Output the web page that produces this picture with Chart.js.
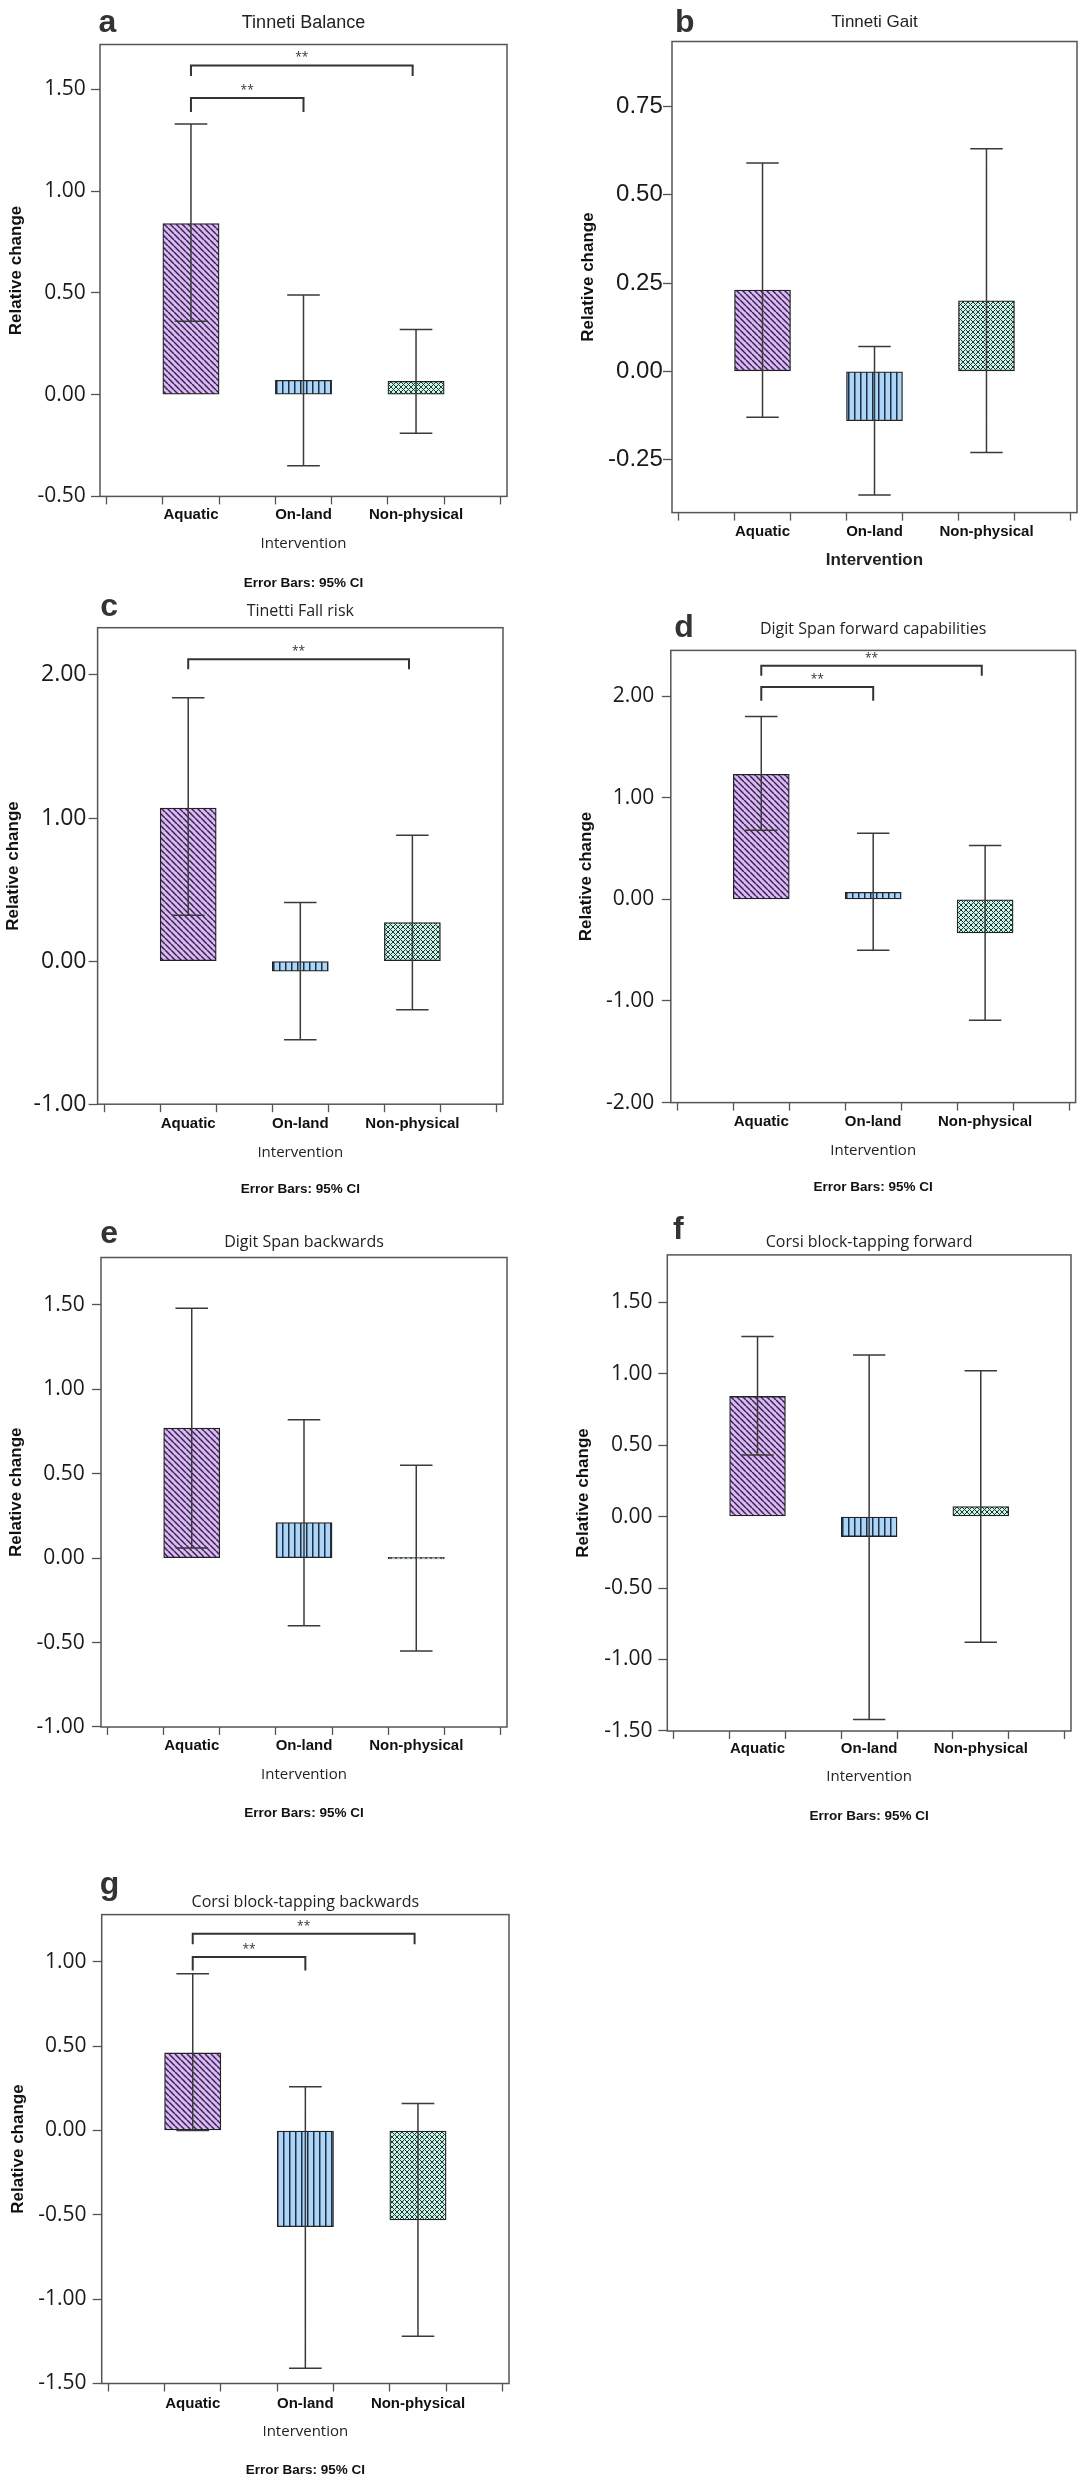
<!DOCTYPE html>
<html>
<head>
<meta charset="utf-8">
<script src="https://cdn.jsdelivr.net/npm/chart.js@4/dist/chart.umd.min.js"></script>
<style>
    body { margin: 0; background: #fff; width: 1083px; height: 2481px; position: relative; overflow: hidden; }
    canvas { position: absolute; }
    .letter { position: absolute; font-family: "Liberation Sans", Arial, sans-serif; font-size: 32px; line-height: 32px; font-weight: bold; color: #333; z-index: 2; }
</style>
</head>
<body>
<script>
// 공통 값
const categories = ['Aquatic', 'On-land', 'Non-physical'];
const xTickPositions = [-0.5, 0, 0.5, 1, 1.5, 2, 2.5];
const xRange = [-0.55, 2.55];

// a. Tinneti Balance
const balanceMean = [0.84, 0.07, 0.065];
const balanceLow = [0.36, -0.35, -0.19];
const balanceHigh = [1.33, 0.49, 0.32];
const balanceTicks = [-0.5, 0, 0.5, 1, 1.5];
const balanceRange = [-0.5, 1.72];
const balanceSig = [[0, 1.97, 1.617, 1.565], [0, 1, 1.457, 1.389]];

// b. Tinneti Gait
const gaitMean = [0.23, -0.14, 0.2];
const gaitLow = [-0.13, -0.35, -0.23];
const gaitHigh = [0.59, 0.07, 0.63];
const gaitTicks = [-0.25, 0, 0.25, 0.5, 0.75];
const gaitRange = [-0.4, 0.934];
const gaitSig = [];

// c. Tinetti Fall risk
const fallMean = [1.07, -0.07, 0.27];
const fallLow = [0.32, -0.55, -0.34];
const fallHigh = [1.84, 0.41, 0.88];
const fallTicks = [-1, 0, 1, 2];
const fallRange = [-1, 2.33];
const fallSig = [[0, 1.97, 2.11, 2.04]];

// d. Digit Span forward capabilities
const digitFwdMean = [1.23, 0.07, -0.33];
const digitFwdLow = [0.68, -0.5, -1.19];
const digitFwdHigh = [1.8, 0.65, 0.53];
const digitFwdTicks = [-2, -1, 0, 1, 2];
const digitFwdRange = [-2, 2.45];
const digitFwdSig = [[0, 1.97, 2.3, 2.2], [0, 1, 2.09, 1.955]];

// e. Digit Span backwards
const digitBwdMean = [0.77, 0.21, 0];
const digitBwdLow = [0.06, -0.4, -0.55];
const digitBwdHigh = [1.48, 0.82, 0.55];
const digitBwdTicks = [-1, -0.5, 0, 0.5, 1, 1.5];
const digitBwdRange = [-1, 1.78];
const digitBwdSig = [];

// f. Corsi block-tapping forward
const corsiFwdMean = [0.84, -0.14, 0.07];
const corsiFwdLow = [0.43, -1.42, -0.88];
const corsiFwdHigh = [1.26, 1.13, 1.02];
const corsiFwdTicks = [-1.5, -1, -0.5, 0, 0.5, 1, 1.5];
const corsiFwdRange = [-1.5, 1.83];
const corsiFwdSig = [];

// g. Corsi block-tapping backwards
const corsiBwdMean = [0.46, -0.57, -0.53];
const corsiBwdLow = [0, -1.41, -1.22];
const corsiBwdHigh = [0.93, 0.26, 0.16];
const corsiBwdTicks = [-1.5, -1, -0.5, 0, 0.5, 1];
const corsiBwdRange = [-1.5, 1.28];
const corsiBwdSig = [[0, 1.97, 1.167, 1.104], [0, 1, 1.029, 0.949]];

const ARIAL = '"Liberation Sans", Arial, sans-serif';
const OPEN = '"Open Sans", sans-serif';

// 패널 배치 (페이지 좌표)
const panels = [
    { letter: 'a', letterAt: [98.6, 32], title: 'Tinneti Balance', titleFont: ARIAL, titleSize: 18,
      mean: balanceMean, low: balanceLow, high: balanceHigh, ticks: balanceTicks, range: balanceRange, sig: balanceSig,
      box: [100, 44.5, 507, 496.4], titleY: 23.4, yTitleX: 16.6, tickFont: OPEN, tickSize: 21, labelRight: 85.8,
      xLabelY: 515, xTitleY: 543.6, xTitleBold: false, noteY: 583 },
    { letter: 'b', letterAt: [675, 32], title: 'Tinneti Gait', titleFont: ARIAL, titleSize: 17,
      mean: gaitMean, low: gaitLow, high: gaitHigh, ticks: gaitTicks, range: gaitRange, sig: gaitSig,
      box: [672, 41.5, 1077, 512.6], titleY: 22.6, yTitleX: 588.5, tickFont: ARIAL, tickSize: 24, labelRight: 662.8,
      xLabelY: 531.5, xTitleY: 560.6, xTitleBold: true, noteY: null },
    { letter: 'c', letterAt: [100.3, 616.4], title: 'Tinetti Fall risk', titleFont: OPEN, titleSize: 16,
      mean: fallMean, low: fallLow, high: fallHigh, ticks: fallTicks, range: fallRange, sig: fallSig,
      box: [97.6, 627.7, 503, 1104.2], titleY: 611.9, yTitleX: 13.8, tickFont: OPEN, tickSize: 23, labelRight: 86.5,
      xLabelY: 1124, xTitleY: 1152.5, xTitleBold: false, noteY: 1189.6 },
    { letter: 'd', letterAt: [674.3, 637.2], title: 'Digit Span forward capabilities', titleFont: OPEN, titleSize: 16,
      mean: digitFwdMean, low: digitFwdLow, high: digitFwdHigh, ticks: digitFwdTicks, range: digitFwdRange, sig: digitFwdSig,
      box: [670.8, 650.4, 1075.6, 1102.6], titleY: 629.6, yTitleX: 586.7, tickFont: OPEN, tickSize: 21, labelRight: 654.2,
      xLabelY: 1122.3, xTitleY: 1150.6, xTitleBold: false, noteY: 1187.7 },
    { letter: 'e', letterAt: [100.3, 1243.3], title: 'Digit Span backwards', titleFont: OPEN, titleSize: 16,
      mean: digitBwdMean, low: digitBwdLow, high: digitBwdHigh, ticks: digitBwdTicks, range: digitBwdRange, sig: digitBwdSig,
      box: [101, 1257.5, 507, 1727], titleY: 1242.6, yTitleX: 16.6, tickFont: OPEN, tickSize: 21, labelRight: 84.8,
      xLabelY: 1746, xTitleY: 1775, xTitleBold: false, noteY: 1813 },
    { letter: 'f', letterAt: [673, 1239.5], title: 'Corsi block-tapping forward', titleFont: OPEN, titleSize: 16,
      mean: corsiFwdMean, low: corsiFwdLow, high: corsiFwdHigh, ticks: corsiFwdTicks, range: corsiFwdRange, sig: corsiFwdSig,
      box: [667.3, 1254.9, 1071, 1731], titleY: 1242.2, yTitleX: 583, tickFont: OPEN, tickSize: 21, labelRight: 652.5,
      xLabelY: 1749, xTitleY: 1777, xTitleBold: false, noteY: 1816.7 },
    { letter: 'g', letterAt: [99.7, 1893.8], title: 'Corsi block-tapping backwards', titleFont: OPEN, titleSize: 16,
      mean: corsiBwdMean, low: corsiBwdLow, high: corsiBwdHigh, ticks: corsiBwdTicks, range: corsiBwdRange, sig: corsiBwdSig,
      box: [101.7, 1914.6, 509, 2383.5], titleY: 1902, yTitleX: 18, tickFont: OPEN, tickSize: 21, labelRight: 86.5,
      xLabelY: 2404, xTitleY: 2431.7, xTitleBold: false, noteY: 2470.7 }
];

// 해칭 패턴
function makePattern(kind) {
    const c = document.createElement('canvas');
    const s = kind === 'lattice' ? 5 : 6;
    c.width = s; c.height = s;
    const g = c.getContext('2d');
    if (kind === 'diag') {
        g.fillStyle = '#dcb8f6'; g.fillRect(0, 0, s, s);
        g.strokeStyle = '#35264b'; g.lineWidth = 1.5;
        g.beginPath();
        [-s, 0, s].forEach(k => { g.moveTo(k, 0); g.lineTo(k + s, s); });
        g.stroke();
    } else if (kind === 'vert') {
        g.fillStyle = '#acd5f7'; g.fillRect(0, 0, s, s);
        g.fillStyle = '#1d2f45'; g.fillRect(0, 0, 1.5, s);
    } else {
        g.fillStyle = '#c9f3e4'; g.fillRect(0, 0, s, s);
        g.strokeStyle = '#1f3836'; g.lineWidth = 1;
        g.beginPath();
        [-s, 0, s].forEach(k => { g.moveTo(k, 0); g.lineTo(k + s, s); g.moveTo(k + s, 0); g.lineTo(k, s); });
        g.stroke();
    }
    return g.createPattern(c, 'repeat');
}
const fills = [makePattern('diag'), makePattern('vert'), makePattern('lattice')];

const framePlugin = {
    id: 'frame',
    afterDraw(chart) {
        const { ctx, chartArea: a } = chart;
        ctx.save();
        ctx.strokeStyle = '#555';
        ctx.lineWidth = 1.5;
        ctx.strokeRect(a.left, a.top, a.right - a.left, a.bottom - a.top);
        ctx.restore();
    }
};

const starPlugin = {
    id: 'stars',
    afterDatasetsDraw(chart, args, opts) {
        const { ctx, scales } = chart;
        ctx.save();
        ctx.font = '12px ' + OPEN;
        ctx.fillStyle = '#333';
        ctx.textAlign = 'center';
        ctx.textBaseline = 'alphabetic';
        (opts.sig || []).forEach(s => {
            ctx.fillText('**', scales.x.getPixelForValue((s[0] + s[1]) / 2), scales.y.getPixelForValue(s[2]) - 4);
        });
        ctx.restore();
    }
};

function errorPoints(low, high) {
    const cap = 0.145;
    const pts = [];
    low.forEach((lo, i) => {
        const hi = high[i];
        pts.push({ x: i - cap, y: hi }, { x: i + cap, y: hi }, { x: i, y: null },
                 { x: i, y: hi }, { x: i, y: lo }, { x: i, y: null },
                 { x: i - cap, y: lo }, { x: i + cap, y: lo }, { x: i, y: null });
    });
    return pts;
}

function bracketPoints(sig) {
    const pts = [];
    sig.forEach(s => {
        pts.push({ x: s[0], y: s[3] }, { x: s[0], y: s[2] }, { x: s[1], y: s[2] }, { x: s[1], y: s[3] }, { x: s[1], y: null });
    });
    return pts;
}

function drawPanel(p) {
    const [L, T, R, B] = p.box;
    const tLine = p.titleSize * 1.2;
    const yLine = 17 * 1.2;
    const xtSize = p.xTitleBold ? 17 : 15;
    const xtLine = xtSize * 1.2;
    const noteLine = 13.5 * 1.2;
    const left = Math.floor(p.yTitleX - yLine / 2);
    const top = Math.floor(p.titleY - tLine / 2);
    const right = Math.ceil(R + 4);
    const contentBottom = p.noteY ? p.noteY + noteLine / 2 : p.xTitleY + xtLine / 2;
    const bottom = Math.ceil(contentBottom + 3);

    const canvas = document.createElement('canvas');
    canvas.width = right - left;
    canvas.height = bottom - top;
    canvas.style.left = left + 'px';
    canvas.style.top = top + 'px';
    document.body.appendChild(canvas);

    const yAxisW = L - left;
    const xAxisH = p.xTitleY + xtLine / 2 - B;
    const yPad = Math.max(0, L - p.labelRight - 9);
    const xPad = Math.max(0, p.xLabelY - B - 8 - 9);

    new Chart(canvas, {
        type: 'bar',
        data: {
            datasets: [
                {
                    type: 'line',
                    data: errorPoints(p.low, p.high),
                    borderColor: '#3a3a3a',
                    borderWidth: 1.5,
                    pointRadius: 0,
                    spanGaps: false,
                    order: 0
                },
                {
                    type: 'line',
                    data: bracketPoints(p.sig),
                    borderColor: '#333',
                    borderWidth: 2,
                    pointRadius: 0,
                    spanGaps: false,
                    order: 0
                },
                {
                    type: 'bar',
                    data: p.mean.map((m, i) => ({ x: i, y: m })),
                    backgroundColor: fills,
                    borderColor: '#222',
                    borderWidth: 1.3,
                    borderSkipped: false,
                    barPercentage: 1,
                    categoryPercentage: 1,
                    minBarLength: 1.5,
                    order: 1
                }
            ]
        },
        options: {
            responsive: false,
            animation: false,
            events: [],
            layout: {
                autoPadding: false,
                padding: { left: 0, top: 0, right: right - R, bottom: bottom - contentBottom }
            },
            plugins: {
                legend: { display: false },
                tooltip: { enabled: false },
                title: {
                    display: true,
                    text: p.title,
                    fullSize: false,
                    color: '#222',
                    font: { family: p.titleFont, size: p.titleSize, weight: 'normal' },
                    padding: { top: p.titleY - tLine / 2 - top, bottom: T - p.titleY - tLine / 2 }
                },
                subtitle: {
                    display: !!p.noteY,
                    text: 'Error Bars: 95% CI',
                    position: 'bottom',
                    fullSize: false,
                    color: '#111',
                    font: { family: ARIAL, size: 13.5, weight: 'bold' },
                    padding: { top: p.noteY ? p.noteY - noteLine / 2 - p.xTitleY - xtLine / 2 : 0, bottom: 0 }
                },
                stars: { sig: p.sig }
            },
            scales: {
                x: {
                    type: 'linear',
                    min: xRange[0],
                    max: xRange[1],
                    afterBuildTicks: s => { s.ticks = xTickPositions.map(v => ({ value: v })); },
                    afterFit: s => { s.height = xAxisH; },
                    border: { display: false },
                    grid: { drawOnChartArea: false, drawTicks: true, tickLength: 8, color: '#555', tickWidth: 1.3 },
                    ticks: {
                        autoSkip: false,
                        maxRotation: 0,
                        padding: xPad,
                        color: '#111',
                        font: { family: ARIAL, size: 15, weight: 'bold' },
                        callback: v => Number.isInteger(v) ? categories[v] : ''
                    },
                    title: {
                        display: true,
                        text: 'Intervention',
                        color: '#222',
                        font: p.xTitleBold ? { family: ARIAL, size: 17, weight: 'bold' } : { family: OPEN, size: 15, weight: 'normal' },
                        padding: { top: 0, bottom: 0 }
                    }
                },
                y: {
                    min: p.range[0],
                    max: p.range[1],
                    afterBuildTicks: s => { s.ticks = p.ticks.map(v => ({ value: v })); },
                    afterFit: s => { s.width = yAxisW; },
                    border: { display: false },
                    grid: { drawOnChartArea: false, drawTicks: true, tickLength: 9, color: '#555', tickWidth: 1.3 },
                    ticks: {
                        padding: yPad,
                        color: '#1a1a1a',
                        font: { family: p.tickFont, size: p.tickSize },
                        callback: v => v.toFixed(2)
                    },
                    title: {
                        display: true,
                        text: 'Relative change',
                        color: '#111',
                        font: { family: ARIAL, size: 17, weight: 'bold' },
                        padding: { top: p.yTitleX - left - yLine / 2, bottom: 0 }
                    }
                }
            }
        },
        plugins: [framePlugin, starPlugin]
    });

    const div = document.createElement('div');
    div.className = 'letter';
    div.textContent = p.letter;
    div.style.left = p.letterAt[0] + 'px';
    div.style.top = (p.letterAt[1] - 27.1) + 'px';
    document.body.appendChild(div);
}

panels.forEach(drawPanel);
</script>
</body>
</html>
